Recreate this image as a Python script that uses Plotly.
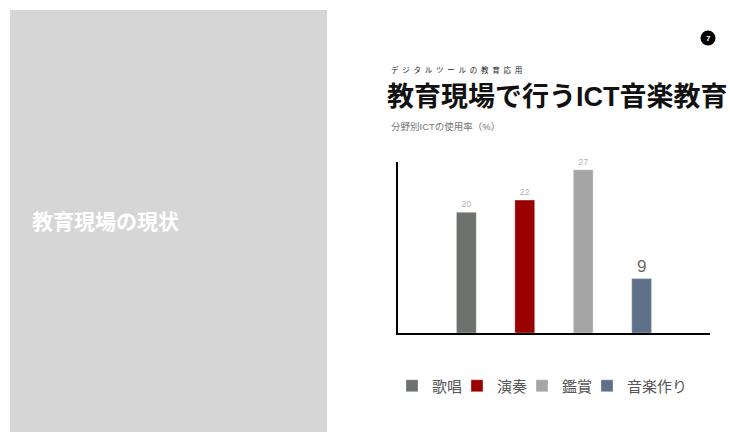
import plotly.graph_objects as go

categories = ["歌唱", "演奏", "鑑賞", "音楽作り"]
values = [20, 22, 27, 9]
colors = ["#6c716d", "#990000", "#a5a5a5", "#5f7089"]
label_sizes = [9, 9, 9, 17]
label_colors = ["#b5b5b5", "#b5b5b5", "#b5b5b5", "#6a6a6a"]

W, H = 730, 432
FONT = "Liberation Sans, Noto Sans CJK JP"

fig = go.Figure()
for cat, v, c, ls, lc in zip(categories, values, colors, label_sizes, label_colors):
    fig.add_trace(go.Bar(
        x=[cat], y=[v], name=cat, width=0.34,
        marker=dict(color=c, line=dict(color="rgba(255,255,255,0.35)", width=1)),
        text=[str(v)], textposition="outside", cliponaxis=False,
        textfont=dict(size=ls, color=lc, family="Liberation Sans"),
    ))
# spacer legend entry (invisible) so the last legend label is not clipped
fig.add_trace(go.Bar(x=[categories[-1]], y=[None], name=" ", showlegend=True,
                     marker=dict(color="rgba(0,0,0,0)", line=dict(width=0)),
                     hoverinfo="skip"))

def px(x):
    return x / W

def py(y):
    return 1 - y / H

fig.update_layout(
    width=W, height=H,
    margin=dict(l=0, r=0, t=0, b=0),
    paper_bgcolor="white", plot_bgcolor="white",
    barmode="overlay",
    font=dict(family=FONT),
    xaxis=dict(domain=[px(398), px(710)], range=[-1.17, 4.17],
               showline=True, linecolor="black", linewidth=2,
               showticklabels=False, ticks="", showgrid=False, zeroline=False,
               fixedrange=True),
    yaxis=dict(domain=[py(333), py(162)], range=[0, 28.3],
               showline=True, linecolor="black", linewidth=2,
               showticklabels=False, ticks="", showgrid=False, zeroline=False),
    showlegend=True,
    legend=dict(orientation="h", x=px(392), y=py(386), xanchor="left", yanchor="middle",
                font=dict(size=15, color="#555555", family=FONT),
                entrywidth=20, entrywidthmode="pixels",
                itemclick=False, itemdoubleclick=False, tracegroupgap=0),
    shapes=[
        dict(type="rect", xref="paper", yref="paper", x0=px(10), x1=px(327), y0=0, y1=py(10),
             fillcolor="#d6d6d6", line=dict(width=0), layer="below"),
        dict(type="circle", xref="paper", yref="paper", x0=px(700.5), x1=px(715.5),
             y0=py(45.5), y1=py(30.5), fillcolor="black", line=dict(width=0)),
    ],
    annotations=[
        dict(text="<b>教育現場の現状</b>", x=px(30), y=py(222), xref="paper", yref="paper",
             xanchor="left", yanchor="middle", showarrow=False,
             font=dict(size=21, color="white", family=FONT)),
        dict(text="<b>7</b>", x=px(708), y=py(38), xref="paper", yref="paper",
             xanchor="center", yanchor="middle", showarrow=False,
             font=dict(size=8, color="white", family="Liberation Sans")),
        dict(text="\u2002".join("デジタルツールの教育応用"), x=px(389), y=py(70), xref="paper", yref="paper",
             xanchor="left", yanchor="middle", showarrow=False,
             font=dict(size=7.5, color="#222222", family=FONT)),
        dict(text="<b>教育現場で行うICT音楽教育</b>", x=px(385), y=py(97.5), xref="paper", yref="paper",
             xanchor="left", yanchor="middle", showarrow=False,
             font=dict(size=27, color="#111111", family=FONT)),
        dict(text="分野別ICTの使用率（%）", x=px(389), y=py(127), xref="paper", yref="paper",
             xanchor="left", yanchor="middle", showarrow=False,
             font=dict(size=9.5, color="#777777", family=FONT)),
    ],
)

fig.write_html("out.html", config={"displayModeBar": False})
